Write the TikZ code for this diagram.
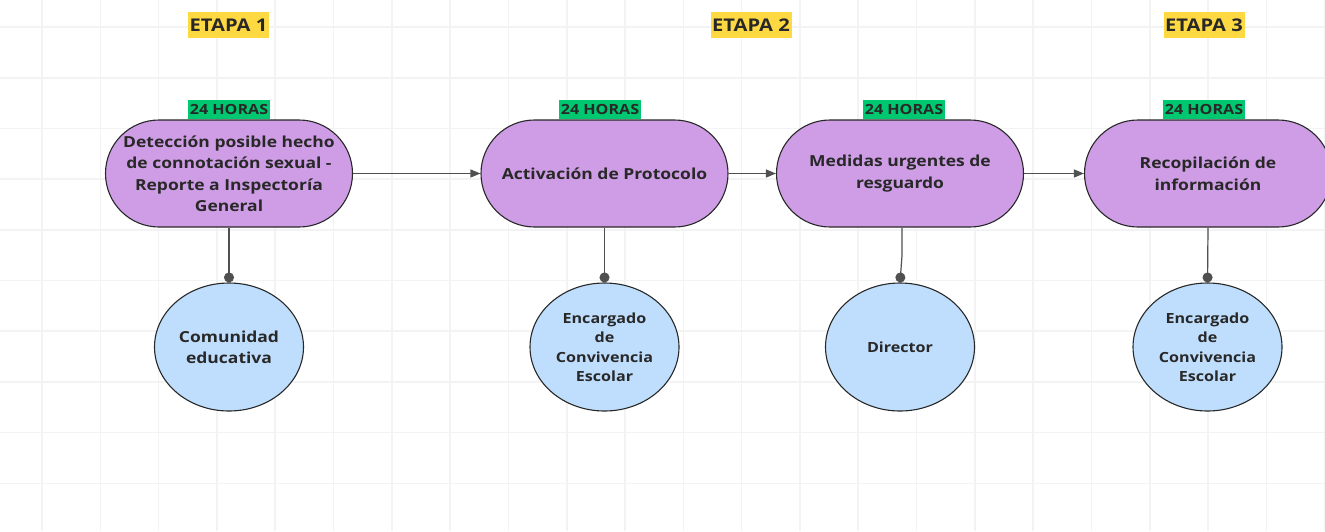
\documentclass[tikz,border=0pt]{standalone}
\usepackage{fontspec}
\setmainfont{Open Sans}[FakeStretch=1.15]
\usetikzlibrary{shapes.misc,shapes.geometric,arrows.meta}
\definecolor{purplefill}{RGB}{206,157,229}
\definecolor{bluefill}{RGB}{191,222,253}
\definecolor{greenlab}{RGB}{0,200,112}
\definecolor{yellowlab}{RGB}{255,217,66}
\definecolor{gridc}{RGB}{243,243,243}
\definecolor{inkc}{RGB}{40,40,40}
\definecolor{linec}{RGB}{80,80,80}
\tikzset{
  gridline/.style={draw=gridc,line width=1.6pt},
  stagebox/.style={shape=rounded rectangle,draw=inkc,line width=1.1pt,fill=purplefill,
    minimum width=247pt,minimum height=107pt,inner sep=0pt,align=center,text=inkc,
    font=\fontsize{15.2}{21.5}\selectfont\bfseries},
  rolebox/.style={shape=ellipse,draw=inkc,line width=1.1pt,fill=bluefill,
    minimum width=149pt,minimum height=128pt,inner sep=0pt,align=center,text=inkc},
  bigrole/.style={font=\fontsize{15.2}{21}\selectfont\bfseries},
  smallrole/.style={font=\fontsize{14}{19.5}\selectfont\bfseries},
  etapalab/.style={fill=yellowlab,inner sep=0pt,minimum width=81pt,minimum height=26pt,
    text=inkc,font=\fontsize{17.5}{17.5}\selectfont\bfseries},
  horaslab/.style={fill=greenlab,inner sep=0pt,minimum width=82pt,minimum height=19pt,
    text=inkc,font=\fontsize{14}{14}\selectfont\bfseries},
  flow/.style={draw=linec,line width=1.2pt,-{Triangle[length=10pt,width=8pt]}},
  link/.style={draw=linec,line width=1.2pt,-{Circle[length=10pt]}}
}
\begin{document}
\begin{tikzpicture}[x=1pt,y=-1pt]
\useasboundingbox (0,0) rectangle (1325,531);
\fill[white] (0,0) rectangle (1325,531);
\foreach \i in {0,...,22} \draw[gridline] ({42+58.3*\i},0) -- ({42+58.3*\i},531);
\foreach \j in {0,...,9} \draw[gridline] (0,{27+50.7*\j}) -- (1325,{27+50.7*\j});

% stage labels
\node[etapalab] (e1) at (228.5,25) {ETAPA 1};
\node[etapalab] (e2) at (751,25) {ETAPA 2};
\node[etapalab] (e3) at (1204,25) {ETAPA 3};

% hours labels
\node[horaslab] (h1) at (229,109.5) {24 HORAS};
\node[horaslab] (h2) at (600,109.5) {24 HORAS};
\node[horaslab] (h3) at (904,109.5) {24 HORAS};
\node[horaslab] (h4) at (1204,109.5) {24 HORAS};

% process steps
\node[stagebox] (s1) at (229,173.5) {Detección posible hecho\\de connotación sexual -\\Reporte a Inspectoría\\General};
\node[stagebox] (s2) at (604.5,173.5) {Activación de Protocolo};
\node[stagebox] (s3) at (900,173.5) {Medidas urgentes de\\resguardo};
\node[stagebox] (s4) at (1208,173.5) {Recopilación de\\información};

% roles
\node[rolebox,bigrole] (r1) at (229,347) {Comunidad\\educativa};
\node[rolebox,smallrole] (r2) at (604.5,347) {Encargado\\de\\Convivencia\\Escolar};
\node[rolebox,smallrole] (r3) at (900,347) {Director};
\node[rolebox,smallrole] (r4) at (1207.5,347) {Encargado\\de\\Convivencia\\Escolar};

% flow arrows
\draw[flow] (s1.east) -- (s2.west);
\draw[flow] (s2.east) -- (s3.west);
\draw[flow] (s3.east) -- (s4.west);

% responsibility links
\draw[link] (s1.south) -- (r1.north);
\draw[link] (s2.south) -- (r2.north);
\draw[link] ([xshift=2pt]s3.south) -- ++(0,28) -- (r3.north);
\draw[link] (s4.south) -- (r4.north);
\end{tikzpicture}
\end{document}
